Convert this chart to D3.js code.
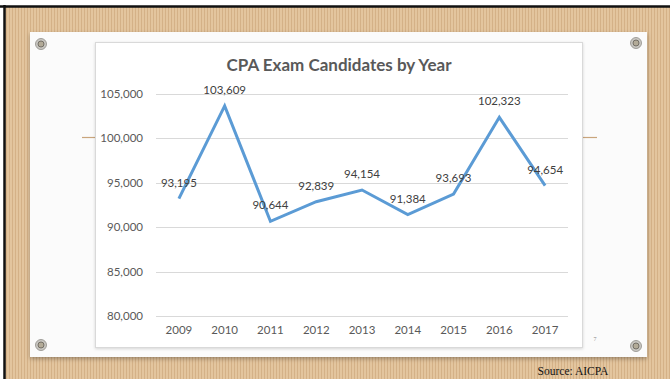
<!DOCTYPE html>
<html lang="en">
  <head>
    <meta charset="utf-8">
    <title>CPA Exam Candidates by Year</title>
    <style>
      body { margin: 0; background: #fff; }
      svg { display: block; }
    </style>
    <script src="https://d3js.org/d3.v7.min.js"></script>
  </head>
  <body>
    <script>
      // chart data
      const years = ['2009', '2010', '2011', '2012', '2013', '2014', '2015', '2016', '2017'];
      const candidates = [93195, 103609, 90644, 92839, 94154, 91384, 93693, 102323, 94654];
      const yTicks = [80000, 85000, 90000, 95000, 100000, 105000];

      const width = 670, height = 379;

      const svg = d3.select('body').append('svg')
                    .attr('width', width)
                    .attr('height', height);

      const defs = svg.append('defs');

      // corkboard stripes
      const pat = defs.append('pattern')
                      .attr('id', 'stripes')
                      .attr('width', 3).attr('height', 4)
                      .attr('patternUnits', 'userSpaceOnUse');
      pat.append('rect').attr('width', 3).attr('height', 4).attr('fill', '#e3c59e');
      pat.append('rect').attr('x', 0).attr('width', 1).attr('height', 4).attr('fill', '#d4b187');

      const shadow = defs.append('filter').attr('id', 'shadow')
                         .attr('x', '-5%').attr('y', '-5%').attr('width', '110%').attr('height', '115%');
      shadow.append('feDropShadow').attr('dx', 0).attr('dy', 2).attr('stdDeviation', 2)
            .attr('flood-color', '#000').attr('flood-opacity', 0.3);

      const soft = defs.append('filter').attr('id', 'soft')
                       .attr('x', '-5%').attr('y', '-5%').attr('width', '110%').attr('height', '110%');
      soft.append('feDropShadow').attr('dx', 0).attr('dy', 1).attr('stdDeviation', 1.5)
          .attr('flood-color', '#000').attr('flood-opacity', 0.15);

      // background + frame
      svg.append('rect').attr('x', 5).attr('y', 7).attr('width', width - 5).attr('height', height - 7)
         .attr('fill', 'url(#stripes)');
      svg.append('line').attr('x1', 0).attr('x2', width).attr('y1', 6.5).attr('y2', 6.5)
         .attr('stroke', '#111').attr('stroke-width', 2.5);
      svg.append('line').attr('x1', 4.5).attr('x2', 4.5).attr('y1', 5).attr('y2', height)
         .attr('stroke', '#111').attr('stroke-width', 2.5);

      // slide
      svg.append('rect').attr('x', 30).attr('y', 32).attr('width', 617).attr('height', 325)
         .attr('fill', '#fbfbfb').attr('filter', 'url(#shadow)');

      // side accent lines
      svg.append('line').attr('x1', 82).attr('x2', 96).attr('y1', 137.5).attr('y2', 137.5)
         .attr('stroke', '#c9a57c').attr('stroke-width', 1.2);
      svg.append('line').attr('x1', 583).attr('x2', 597).attr('y1', 137.5).attr('y2', 137.5)
         .attr('stroke', '#c9a57c').attr('stroke-width', 1.2);

      // screws
      const screws = [[41, 44], [636, 43], [41, 345], [636, 346]];
      screws.forEach(([cx, cy]) => {
        svg.append('circle').attr('cx', cx).attr('cy', cy).attr('r', 5.5)
           .attr('fill', '#c9c7c2').attr('stroke', '#8f8d88').attr('stroke-width', 0.8);
        svg.append('circle').attr('cx', cx).attr('cy', cy).attr('r', 3)
           .attr('fill', '#b3ab98').attr('stroke', '#6c6860').attr('stroke-width', 0.9);
      });

      // chart box
      svg.append('rect').attr('x', 95.5).attr('y', 42.5).attr('width', 487).attr('height', 305)
         .attr('fill', '#fff').attr('stroke', '#d9d9d9').attr('stroke-width', 1)
         .attr('filter', 'url(#soft)');

      const x = d3.scaleBand().domain(years).range([156, 568]);
      const y = d3.scaleLinear().domain([80000, 105000]).range([316, 93.5]);

      const fmt = d3.format(',');

      // gridlines
      svg.append('g').selectAll('line').data(yTicks).join('line')
         .attr('x1', 156).attr('x2', 568)
         .attr('y1', d => Math.round(y(d)) + 0.5).attr('y2', d => Math.round(y(d)) + 0.5)
         .attr('stroke', '#d9d9d9').attr('stroke-width', 1);

      // y axis
      const yAxis = svg.append('g').attr('transform', 'translate(156,0)')
                       .call(d3.axisLeft(y).tickValues(yTicks).tickFormat(fmt).tickSize(0).tickPadding(13));
      yAxis.select('.domain').remove();
      yAxis.selectAll('text').attr('fill', '#595959')
           .style('font', '11.5px Lato, "Open Sans", sans-serif');

      // x axis
      const xAxis = svg.append('g').attr('transform', 'translate(0,316)')
                       .call(d3.axisBottom(x).tickSize(0).tickPadding(10));
      xAxis.select('.domain').remove();
      xAxis.selectAll('text').attr('fill', '#595959')
           .style('font', '11.5px Lato, "Open Sans", sans-serif');

      // title
      svg.append('text').attr('x', 339).attr('y', 71).attr('text-anchor', 'middle')
         .attr('fill', '#595959')
         .style('font', 'bold 17px Lato, "Open Sans", sans-serif')
         .text('CPA Exam Candidates by Year');

      // line
      const line = d3.line()
                     .x((d, i) => x(years[i]) + x.bandwidth() / 2)
                     .y(d => y(d));
      svg.append('path').datum(candidates)
         .attr('d', line)
         .attr('fill', 'none')
         .attr('stroke', '#5b9bd5')
         .attr('stroke-width', 3)
         .attr('stroke-linejoin', 'miter')
         .attr('stroke-linecap', 'butt');

      // data labels
      svg.append('g').selectAll('text').data(candidates).join('text')
         .attr('x', (d, i) => x(years[i]) + x.bandwidth() / 2)
         .attr('y', d => y(d) - 12)
         .attr('text-anchor', 'middle')
         .attr('fill', '#404040')
         .style('font', '11.5px Lato, "Open Sans", sans-serif')
         .text(d => fmt(d));

      // slide number
      svg.append('text').attr('x', 595).attr('y', 341).attr('text-anchor', 'middle')
         .attr('fill', '#888').style('font', '6px "Liberation Serif", serif').text('7');

      // source
      svg.append('text').attr('x', 573).attr('y', 375).attr('text-anchor', 'middle')
         .attr('fill', '#111').style('font', '11.5px "Liberation Serif", "Times New Roman", serif')
         .text('Source: AICPA');
    </script>
  </body>
</html>
